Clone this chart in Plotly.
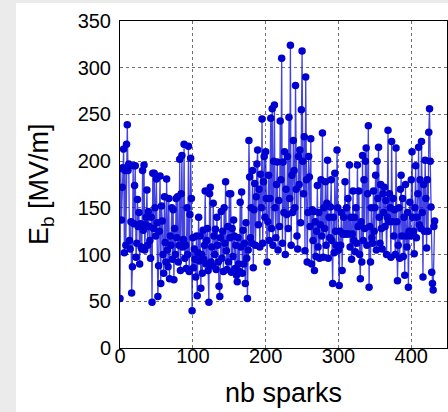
import plotly.graph_objects as go

# breakdown field per spark (MV/m)
eb_values = [
    53, 192, 137, 172, 193, 213, 102, 190, 110, 218,
    239, 190, 197, 115, 106, 135, 59, 87, 195, 133,
    174, 195, 97, 112, 159, 130, 145, 90, 133, 108,
    106, 190, 126, 196, 105, 132, 140, 169, 110, 146,
    130, 115, 96, 140, 49, 187, 128, 187, 150, 120,
    181, 134, 55, 88, 125, 184, 69, 152, 136, 100,
    80, 162, 113, 92, 181, 105, 87, 160, 74, 120,
    110, 150, 95, 148, 73, 128, 100, 160, 118, 162,
    92, 110, 202, 83, 165, 206, 108, 116, 218, 96,
    110, 85, 150, 100, 216, 82, 143, 203, 160, 40,
    118, 86, 106, 95, 76, 120, 56, 102, 140, 93,
    120, 64, 100, 80, 126, 95, 110, 168, 90, 115,
    128, 83, 49, 165, 172, 92, 108, 88, 155, 120,
    100, 127, 84, 140, 110, 92, 66, 55, 118, 146,
    96, 125, 82, 150, 112, 178, 104, 84, 130, 92,
    165, 118, 165, 81, 128, 98, 137, 120, 85, 110,
    78, 71, 118, 90, 82, 156, 108, 167, 80, 126,
    90, 112, 69, 134, 96, 53, 105, 222, 183, 118,
    150, 112, 190, 86, 148, 176, 110, 162, 197, 212,
    132, 170, 108, 186, 150, 245, 112, 178, 205, 140,
    210, 160, 92, 135, 185, 115, 160, 246, 128, 256,
    110, 200, 260, 150, 118, 175, 199, 105, 158, 130,
    243, 180, 310, 112, 199, 145, 210, 100, 170, 143,
    205, 128, 247, 160, 324, 110, 185, 145, 222, 190,
    150, 281, 170, 120, 106, 205, 175, 212, 134, 255,
    318, 200, 165, 226, 104, 290, 180, 92, 145, 205,
    183, 130, 224, 90, 148, 115, 146, 83, 135, 98,
    125, 174, 108, 145, 96, 132, 180, 120, 230, 97,
    150, 128, 178, 110, 155, 201, 96, 140, 118, 151,
    180, 115, 69, 140, 102, 187, 125, 110, 212, 150,
    105, 67, 125, 110, 145, 83, 122, 140, 122, 178,
    122, 150, 122, 160, 122, 196, 108, 140, 95, 122,
    168, 115, 140, 103, 150, 112, 196, 130, 168, 100,
    74, 135, 92, 206, 115, 180, 128, 200, 214, 110,
    165, 238, 65, 130, 92, 150, 118, 112, 168, 125,
    150, 185, 105, 200, 160, 215, 140, 112, 175, 128,
    106, 165, 145, 172, 130, 158, 100, 140, 233, 135,
    165, 150, 97, 221, 135, 160, 120, 148, 100, 214,
    135, 72, 110, 150, 96, 170, 185, 120, 160, 98,
    140, 78, 175, 120, 108, 145, 65, 125, 156, 120,
    180, 210, 140, 125, 101, 150, 195, 118, 140, 165,
    215, 132, 180, 128, 221, 145, 76, 175, 125, 201,
    160, 107, 180, 125, 231, 256, 200, 151, 81, 69,
    62, 130, 136,
]
spark_index = list(range(len(eb_values)))

x_ticks = [0, 100, 200, 300, 400]
y_ticks = [0, 50, 100, 150, 200, 250, 300, 350]

FONT = "Liberation Sans, Arial, sans-serif"

fig = go.Figure()
fig.add_trace(go.Scatter(
    x=spark_index, y=eb_values, mode="lines+markers",
    line=dict(color="rgba(20,20,220,0.8)", width=1.3),
    marker=dict(color="#0000d0", size=7.5),
    showlegend=False,
))

axis_common = dict(
    showgrid=True, gridcolor="#707070", griddash="dot", gridwidth=1,
    showline=True, linecolor="black", linewidth=1, mirror=True,
    zeroline=False, ticks="", tickfont=dict(family=FONT, size=20, color="black"),
)
fig.update_xaxes(range=[0, 449], tickvals=x_ticks, ticklabelstandoff=-10, **axis_common)
fig.update_yaxes(range=[0, 350], tickvals=y_ticks, ticklabelstandoff=4, **axis_common)

GRAY = "#ebebeb"
fig.update_layout(
    width=448, height=412,
    margin=dict(l=120, r=1, t=21, b=64),
    paper_bgcolor="white", plot_bgcolor="white",
    font=dict(family=FONT, color="black"),
    shapes=[
        dict(type="rect", xref="paper", yref="paper",
             x0=-0.4, x1=-0.318, y0=-0.5, y1=1.3,
             fillcolor=GRAY, line=dict(width=0), layer="below"),
        dict(type="rect", xref="paper", yref="paper",
             x0=-0.4, x1=1.2, y0=1.055, y1=1.3,
             fillcolor=GRAY, line=dict(width=0), layer="below"),
    ],
    annotations=[
        dict(text="nb sparks", xref="paper", yref="paper", x=0.5, y=-0.138,
             xanchor="center", yanchor="middle", showarrow=False,
             font=dict(family=FONT, size=27, color="black")),
        dict(text="E<sub>b</sub> [MV/m]", xref="paper", yref="paper", x=-0.243, y=0.5,
             xanchor="center", yanchor="middle", textangle=-90, showarrow=False,
             font=dict(family=FONT, size=27, color="black")),
    ],
)

fig.write_html(
    "out.html",
    config={"displayModeBar": False},
    post_script=(
        "var s=document.createElement('style');"
        "s.textContent='html,body{margin:0;padding:0;overflow:hidden;background:#fff;}"
        "::-webkit-scrollbar{display:none;width:0;height:0;}';"
        "document.head.appendChild(s);"
    ),
)
